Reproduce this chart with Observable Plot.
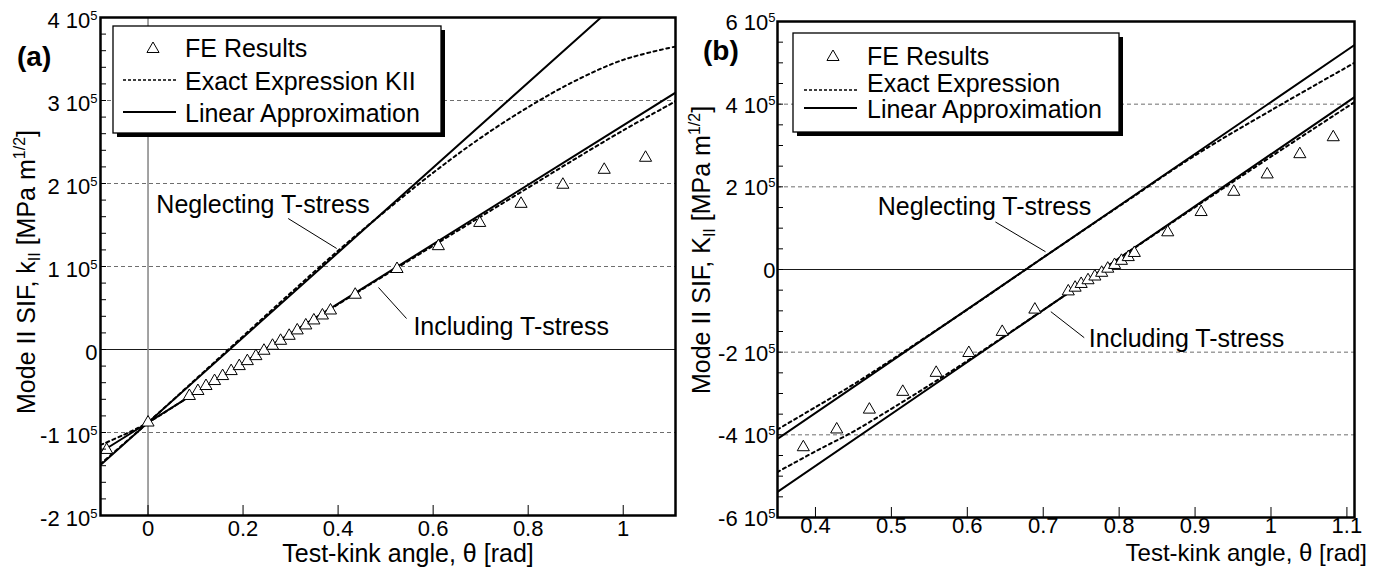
<!DOCTYPE html>
<html><head><meta charset="utf-8">
<script src="https://cdn.jsdelivr.net/npm/d3@7"></script>
<script src="https://cdn.jsdelivr.net/npm/@observablehq/plot@0.6"></script>
<style>
body{margin:0;background:#fff;}
#wrap{position:relative;width:1385px;height:574px;overflow:hidden;background:#fff;}
#wrap svg{position:absolute;top:0;}
</style></head><body><div id="wrap"></div>
<script>
// ---------- Panel (a) data (k_II in units of 10^5 MPa m^1/2) ----------
const feThetaA = [-0.087, 0, 0.087, 0.105, 0.122, 0.140, 0.157, 0.175, 0.192, 0.209, 0.227, 0.244, 0.262, 0.279, 0.297, 0.314, 0.332, 0.349, 0.367, 0.384, 0.436, 0.524, 0.611, 0.698, 0.785, 0.873, 0.960, 1.047];
const feKA = [-1.21, -0.88, -0.56, -0.50, -0.44, -0.38, -0.32, -0.26, -0.20, -0.14, -0.08, -0.015, 0.045, 0.105, 0.165, 0.23, 0.29, 0.35, 0.41, 0.47, 0.66, 0.97, 1.245, 1.525, 1.755, 1.985, 2.165, 2.31];
const exactThetaA = [-0.1, -0.05, 0, 0.1, 0.2, 0.3, 0.4, 0.5, 0.6, 0.7, 0.8, 0.9, 1.0, 1.11];
const exactNegA = [-1.38, -1.13, -0.88, -0.36, 0.16, 0.68, 1.19, 1.67, 2.13, 2.55, 2.92, 3.24, 3.49, 3.65];
const exactIncA = [-1.15, -1.025, -0.88, -0.52, -0.165, 0.19, 0.545, 0.90, 1.25, 1.60, 1.95, 2.30, 2.64, 2.99];
const linThetaA = [-0.1, 1.11];
const linNegA = [-1.392, 4.803];
const linIncA = [-1.238, 3.094];
const xTicksA = [0, 0.2, 0.4, 0.6, 0.8, 1];
const xLabelsA = ["0", "0.2", "0.4", "0.6", "0.8", "1"];
const yTicksA = [-2, -1, 0, 1, 2, 3, 4];
const yLabelsA = ["-2 10^5", "-1 10^5", "0", "1 10^5", "2 10^5", "3 10^5", "4 10^5"];
const gridA = [-1, 1, 2, 3];
const annTextA = ["Neglecting T-stress", "Including T-stress"];
const annXA = [0.0175, 0.5585];
const annYA = [1.65, 0.18];
const leadX1A = [0.295, 0.485], leadY1A = [1.578, 0.747], leadX2A = [0.397, 0.544], leadY2A = [1.217, 0.373];

// ---------- Panel (b) data (K_II in units of 10^5 MPa m^1/2) ----------
const feThetaB = [0.384, 0.428, 0.471, 0.515, 0.559, 0.602, 0.646, 0.689, 0.733, 0.742, 0.750, 0.759, 0.768, 0.777, 0.785, 0.794, 0.803, 0.812, 0.820, 0.864, 0.908, 0.951, 0.995, 1.038, 1.082];
const feKB = [-4.30, -3.87, -3.39, -2.96, -2.50, -2.02, -1.51, -0.97, -0.53, -0.44, -0.35, -0.26, -0.17, -0.08, 0.02, 0.11, 0.21, 0.30, 0.40, 0.90, 1.39, 1.88, 2.30, 2.79, 3.20];
const exactThetaB = [0.35, 0.4, 0.45, 0.5, 0.55, 0.6, 0.7, 0.8, 0.9, 1.0, 1.11];
const exactNegB = [-3.87, -3.33, -2.78, -2.19, -1.58, -0.97, 0.29, 1.53, 2.76, 3.85, 5.00];
const exactIncB = [-4.90, -4.40, -3.92, -3.37, -2.80, -2.21, -0.98, 0.27, 1.51, 2.73, 4.05];
const linThetaB = [0.35, 1.11];
const linNegB = [-4.10, 5.43];
const linIncB = [-5.38, 4.17];
const xTicksB = [0.4, 0.5, 0.6, 0.7, 0.8, 0.9, 1, 1.1];
const xLabelsB = ["0.4", "0.5", "0.6", "0.7", "0.8", "0.9", "1", "1.1"];
const yTicksB = [-6, -4, -2, 0, 2, 4, 6];
const yLabelsB = ["-6 10^5", "-4 10^5", "-2 10^5", "0", "2 10^5", "4 10^5", "6 10^5"];
const gridB = [-4, -2, 2, 4];
const annTextB = ["Neglecting T-stress", "Including T-stress"];
const annXB = [0.482, 0.760];
const annYB = [1.32, -1.87];
const leadX1B = [0.637, 0.710], leadY1B = [1.15, -1.02], leadX2B = [0.703, 0.754], leadY2B = [0.43, -1.65];

const legendLabelsA = ["FE Results", "Exact Expression KII", "Linear Approximation"];
const legendLabelsB = ["FE Results", "Exact Expression", "Linear Approximation"];

const FONT = "'Liberation Sans', Arial, Helvetica, sans-serif";
const wrap = document.getElementById("wrap");

function buildPanel(cfg) {
  const minor = d3.range(cfg.yDomain[0], cfg.yDomain[1] + 1e-9, cfg.minorStep).map(v => +v.toFixed(4));
  const svg = Plot.plot({
    width: cfg.width, height: 574,
    marginLeft: cfg.ml, marginRight: cfg.mr, marginTop: cfg.mt, marginBottom: cfg.mb,
    style: {background: "transparent", fontFamily: FONT, fontSize: "22px", color: "black", overflow: "visible"},
    x: {domain: cfg.xDomain},
    y: {domain: cfg.yDomain},
    marks: [
      Plot.ruleY(cfg.grid, {stroke: "#6e6e6e", strokeWidth: 1, strokeDasharray: "4,3"}),
      Plot.ruleY([0], {stroke: "#1a1a1a", strokeWidth: 1.2}),
      cfg.vline ? Plot.ruleX([0], {stroke: "#8c8c8c", strokeWidth: 1.6}) : null,
      Plot.line(cfg.exactTheta, {x: cfg.exactTheta, y: cfg.exactNeg, stroke: "black", strokeWidth: 2, strokeDasharray: "3,3.5", curve: "catmull-rom", clip: true}),
      Plot.line(cfg.exactTheta, {x: cfg.exactTheta, y: cfg.exactInc, stroke: "black", strokeWidth: 2, strokeDasharray: "3,3.5", curve: "catmull-rom", clip: true}),
      Plot.line(cfg.linTheta, {x: cfg.linTheta, y: cfg.linNeg, stroke: "black", strokeWidth: 2, clip: true}),
      Plot.line(cfg.linTheta, {x: cfg.linTheta, y: cfg.linInc, stroke: "black", strokeWidth: 2, clip: true}),
      Plot.link(cfg.lx1, {x1: cfg.lx1, y1: cfg.ly1, x2: cfg.lx2, y2: cfg.ly2, stroke: "black", strokeWidth: 1}),
      Plot.dot(cfg.feTheta, {x: cfg.feTheta, y: cfg.feK, symbol: "triangle", r: 4.5, stroke: "black", fill: "white", strokeWidth: 1}),
      Plot.text(cfg.annText, {x: cfg.annX, y: cfg.annY, text: cfg.annText, textAnchor: "start", lineAnchor: "bottom", fontSize: 25, fill: "black"}),
      Plot.axisY({ticks: cfg.yTicks, tickFormat: d => cfg.yLabels[cfg.yTicks.indexOf(d)], tickSize: 0, tickPadding: cfg.yPad, dy: cfg.yDy, label: null}),
      Plot.axisY({ticks: minor, tickFormat: () => "", tickSize: 6, dx: 6, label: null}),
      Plot.axisX({ticks: cfg.xTicks, tickFormat: d => cfg.xLabels[cfg.xTicks.indexOf(d)], tickSize: 0, tickPadding: cfg.xPad, label: null}),
      Plot.axisX({ticks: cfg.xTicks, tickFormat: () => "", tickSize: 10, dy: -10, label: null}),
      Plot.frame({stroke: "black", strokeWidth: 2.5})
    ]
  });
  svg.style.left = cfg.left + "px";
  // superscript exponents in tick labels
  svg.querySelectorAll('g[aria-label="y-axis tick label"] text').forEach(t => {
    const s = t.textContent;
    if (s.includes("^")) {
      const [m, e] = s.split("^");
      t.textContent = m;
      const ts = document.createElementNS("http://www.w3.org/2000/svg", "tspan");
      ts.setAttribute("font-size", "13");
      ts.setAttribute("dy", "-8");
      ts.textContent = e;
      t.appendChild(ts);
    }
  });
  const g = d3.select(svg).append("g").attr("font-family", FONT).attr("fill", "black").attr("text-anchor", "start");
  // panel label
  g.append("text").attr("x", cfg.tag[0]).attr("y", cfg.tag[1]).attr("text-anchor", "start").attr("font-size", 28).attr("font-weight", "bold").text(cfg.tagText);
  // y axis title
  const yt = g.append("text").attr("transform", `translate(${cfg.ytitle[0]},${cfg.ytitle[1]}) rotate(-90)`)
    .attr("text-anchor", "middle").attr("font-size", 25);
  yt.append("tspan").text("Mode II SIF, " + cfg.kLetter);
  yt.append("tspan").attr("font-size", 16).attr("dy", 5).text("II");
  yt.append("tspan").attr("dy", -5).text(" [MPa m");
  yt.append("tspan").attr("font-size", 16).attr("dy", -10).text("1/2");
  yt.append("tspan").attr("dy", 10).text("]");
  // x axis title
  g.append("text").attr("x", cfg.xtitle[0]).attr("y", cfg.xtitle[1]).attr("text-anchor", cfg.xtitleAnchor)
    .attr("font-size", cfg.xtitleSize).text("Test-kink angle, \u03b8 [rad]");
  // legend
  const L = cfg.legend;
  g.append("rect").attr("x", L.x + 4).attr("y", L.y + 4).attr("width", L.w).attr("height", L.h).attr("fill", "black");
  g.append("rect").attr("x", L.x).attr("y", L.y).attr("width", L.w).attr("height", L.h).attr("fill", "white").attr("stroke", "black").attr("stroke-width", 1.3);
  g.append("path").attr("d", d3.symbol(d3.symbolTriangle, Math.PI * 4.5 * 4.5)()).attr("transform", `translate(${L.tri[0]},${L.tri[1]})`)
    .attr("fill", "white").attr("stroke", "black").attr("stroke-width", 1);
  g.append("line").attr("x1", L.lx[0]).attr("x2", L.lx[1]).attr("y1", L.dashY).attr("y2", L.dashY).attr("stroke", "black").attr("stroke-width", 1.6).attr("stroke-dasharray", "3,2");
  g.append("line").attr("x1", L.lx[0]).attr("x2", L.lx[1]).attr("y1", L.solidY).attr("y2", L.solidY).attr("stroke", "black").attr("stroke-width", 1.8);
  cfg.legendLabels.forEach((s, i) => {
    g.append("text").attr("x", L.tx).attr("y", L.base[i]).attr("text-anchor", "start").attr("font-size", 25).text(s);
  });
  wrap.appendChild(svg);
}

buildPanel({
  left: 0, width: 690, ml: 100, mr: 15, mt: 17, mb: 59,
  xDomain: [-0.1, 1.11], yDomain: [-2, 4], minorStep: 0.2, grid: gridA, vline: true,
  exactTheta: exactThetaA, exactNeg: exactNegA, exactInc: exactIncA,
  linTheta: linThetaA, linNeg: linNegA, linInc: linIncA,
  feTheta: feThetaA, feK: feKA,
  annText: annTextA, annX: annXA, annY: annYA,
  lx1: leadX1A, ly1: leadY1A, lx2: leadX2A, ly2: leadY2A,
  xTicks: xTicksA, xLabels: xLabelsA, yTicks: yTicksA, yLabels: yLabelsA,
  yPad: 3, yDy: 3, xPad: 5,
  tag: [17, 66], tagText: "(a)", kLetter: "k",
  ytitle: [35, 272], xtitle: [408, 562], xtitleAnchor: "middle", xtitleSize: 25,
  legend: {x: 113, y: 26, w: 328, h: 107, tri: [153, 49], lx: [123, 176], dashY: 80, solidY: 112, tx: 185, base: [57, 90, 122]},
  legendLabels: legendLabelsA
});

buildPanel({
  left: 690, width: 695, ml: 87, mr: 31, mt: 21, mb: 57,
  xDomain: [0.35, 1.11], yDomain: [-6, 6], minorStep: 0.5, grid: gridB, vline: false,
  exactTheta: exactThetaB, exactNeg: exactNegB, exactInc: exactIncB,
  linTheta: linThetaB, linNeg: linNegB, linInc: linIncB,
  feTheta: feThetaB, feK: feKB,
  annText: annTextB, annX: annXB, annY: annYB,
  lx1: leadX1B, ly1: leadY1B, lx2: leadX2B, ly2: leadY2B,
  xTicks: xTicksB, xLabels: xLabelsB, yTicks: yTicksB, yLabels: yLabelsB,
  yPad: 2, yDy: 1.5, xPad: 0,
  tag: [13, 60], tagText: "(b)", kLetter: "K",
  ytitle: [20, 250], xtitle: [677, 561], xtitleAnchor: "end", xtitleSize: 24,
  legend: {x: 103, y: 33, w: 326, h: 99, tri: [143, 57], lx: [114, 167], dashY: 90, solidY: 108, tx: 177, base: [65, 92, 118]},
  legendLabels: legendLabelsB
});
</script></body></html>
